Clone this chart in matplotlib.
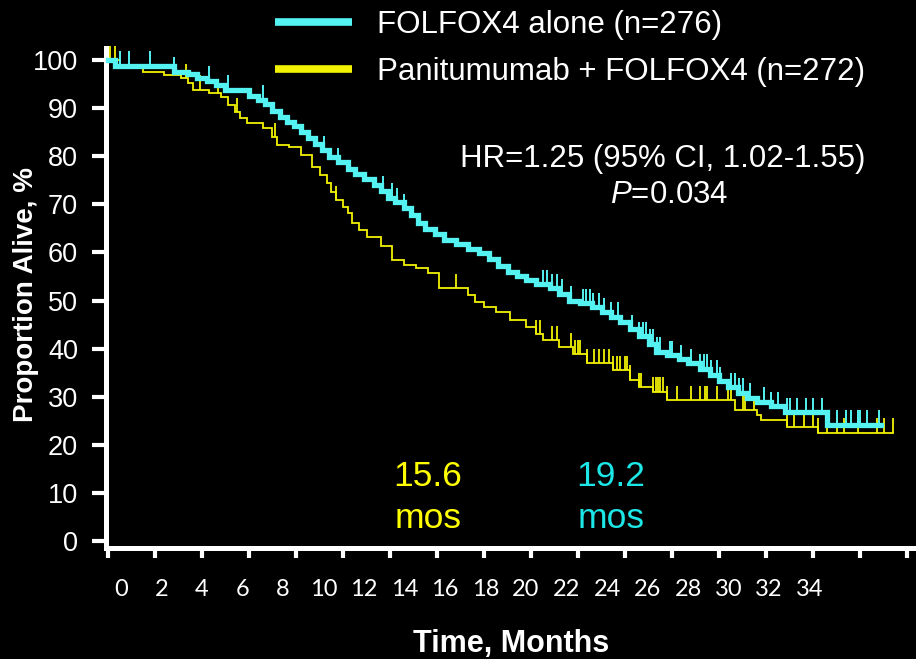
import numpy as np
import matplotlib
matplotlib.use("Agg")
import matplotlib.pyplot as plt
from matplotlib.lines import Line2D

plt.rcParams["font.family"] = ["Liberation Sans", "DejaVu Sans"]
plt.rcParams["mathtext.fontset"] = "custom"
plt.rcParams["mathtext.rm"] = "Liberation Sans"
plt.rcParams["mathtext.it"] = "Liberation Sans:italic"

# Kaplan-Meier overall survival, step times (months) and proportion alive (%)
folfox_times = [0.0, 0.3, 2.8, 3.4, 3.8, 4.2, 4.6, 5.0, 6.0, 6.4, 6.7, 7.0, 7.3, 7.6,
                7.9, 8.2, 8.5, 8.8, 9.1, 9.4, 9.8, 10.2, 10.5, 10.9, 11.3, 11.6, 11.9,
                12.2, 12.6, 12.9, 13.2, 13.5, 13.9, 14.3, 14.8, 15.3, 15.8, 16.2, 16.6,
                17.0, 17.4, 17.8, 18.2, 18.8, 19.2, 19.6, 20.1, 20.6, 21.0, 21.4, 21.8,
                22.2, 22.6, 23.0, 23.3, 23.8, 24.3, 24.7, 25.2, 25.6, 26.0, 26.4, 26.8,
                27.2, 27.6, 28.2, 28.8, 30.6, 32.9]
folfox_surv = [100.0, 98.8, 97.6, 97.0, 96.3, 95.7, 94.9, 93.8, 92.6, 91.8, 90.8, 89.4,
               88.2, 87.2, 86.2, 85.0, 83.8, 82.6, 81.3, 79.8, 78.8, 77.4, 76.3, 75.2,
               74.0, 72.8, 71.4, 70.4, 69.2, 67.8, 66.2, 64.8, 63.8, 62.6, 61.8, 60.8,
               59.8, 58.6, 57.2, 55.9, 55.0, 54.2, 53.4, 52.6, 51.4, 50.0, 49.4, 48.6,
               47.6, 46.6, 45.6, 44.0, 42.6, 41.0, 39.4, 38.6, 37.8, 37.0, 35.8, 34.6,
               33.2, 32.0, 30.8, 29.8, 29.0, 28.0, 26.8, 24.2, 24.2]
folfox_censored = [0.5, 0.9, 1.8, 2.8, 4.3, 5.1, 6.6, 9.2, 9.8, 11.7, 12.1, 12.3, 12.6,
                   18.5, 18.7, 18.9, 19.1, 19.3, 19.7, 20.2, 20.35, 20.5, 20.65, 20.9,
                   21.1, 21.4, 21.7, 22.3, 22.6, 22.75, 22.9, 23.05, 23.2, 23.35, 23.5,
                   23.9, 24.0, 24.4, 24.8, 25.2, 25.35, 25.5, 25.65, 25.9, 26.05, 26.5,
                   26.7, 26.85, 27.0, 27.3, 27.9, 28.2, 28.5, 28.9, 29.0, 29.3, 29.7,
                   30.0, 30.4, 31.0, 31.4, 31.6, 31.9, 32.0, 32.3, 32.8]

pmab_times = [0.0, 0.5, 1.5, 2.4, 3.1, 3.4, 3.6, 4.3, 4.8, 5.1, 5.4, 5.6, 5.9, 6.6, 7.0,
              7.2, 7.7, 8.2, 8.7, 9.0, 9.3, 9.5, 9.7, 10.0, 10.2, 10.4, 10.7, 11.0, 11.6,
              12.1, 12.6, 13.1, 13.6, 14.1, 15.3, 15.6, 16.0, 16.5, 17.1, 17.8, 18.2,
              18.5, 19.2, 19.8, 20.4, 21.5, 22.2, 22.6, 23.2, 23.8, 26.7, 27.6, 27.8,
              28.9, 30.2, 33.4]
pmab_surv = [100.0, 98.6, 97.6, 96.9, 96.2, 95.2, 93.8, 93.1, 92.3, 90.6, 89.2, 88.0,
             86.9, 85.9, 84.0, 82.3, 81.9, 80.2, 77.8, 76.0, 74.4, 72.6, 70.9, 69.5,
             68.2, 66.1, 64.6, 63.2, 61.4, 58.4, 57.4, 56.8, 55.7, 52.6, 51.1, 49.6,
             48.6, 47.6, 45.9, 44.5, 43.0, 41.8, 40.3, 38.8, 37.0, 35.5, 33.5, 32.0,
             31.0, 29.3, 27.2, 26.2, 25.2, 23.7, 22.5, 22.5]
pmab_censored = [0.1, 0.3, 3.3, 3.9, 4.7, 5.5, 7.1, 9.7, 14.8, 18.2, 18.4, 18.9, 19.1,
                 19.7, 19.85, 20.0, 20.1, 20.4, 20.7, 20.9, 21.1, 21.3, 21.5, 21.65,
                 21.8, 22.0, 22.1, 22.2, 22.6, 22.7, 23.2, 23.3, 23.4, 23.5, 23.6, 23.8,
                 24.2, 24.8, 25.2, 25.4, 25.5, 25.9, 26.4, 26.5, 27.0, 27.1, 27.5, 28.9,
                 29.2, 29.6, 30.0, 30.2, 30.6, 31.0, 31.3, 31.9, 32.7, 33.0, 33.4]

labels = ["FOLFOX4 alone (n=276)", "Panitumumab + FOLFOX4 (n=272)"]
medians = [19.2, 15.6]
x_ticks = list(range(0, 35, 2))
y_ticks = list(range(0, 101, 10))
hr_text = "HR=1.25 (95% CI, 1.02-1.55)"
p_text = r"$\mathit{P}$=0.034"

CYAN = "#55F2F2"
CYAN_TXT = "#1CE6E6"
YELLOW = "#F2F200"
YELLOW_TXT = "#FFFF00"
WHITE = "white"

fig = plt.figure(figsize=(9.16, 6.59), dpi=100, facecolor="black")
ax = fig.add_axes([0.1157, 0.1684, 0.8843, 0.7587])
ax.set_facecolor("black")


def survival_at(times, surv, t):
    idx = np.searchsorted(times, t, side="right") - 1
    return np.asarray(surv)[idx]


def draw_curve(times, surv, censored, color, lw, tick_lw, z):
    ax.step(times, surv, where="post", color=color, lw=lw, zorder=z,
            solid_joinstyle="miter", clip_on=False)
    c = np.asarray(censored)
    s = survival_at(np.asarray(times), surv, c)
    ax.vlines(c, s, s + 3.0, color=color, lw=tick_lw, zorder=z, clip_on=False)


draw_curve(pmab_times, pmab_surv, pmab_censored, YELLOW, 1.3, 1.3, 3)
draw_curve(folfox_times, folfox_surv, folfox_censored, CYAN, 3.8, 1.4, 4)

ax.set_xlim(-0.085, 34.38)
ax.set_ylim(-1.46, 102.5)

for side in ("top", "right"):
    ax.spines[side].set_visible(False)
for side in ("left", "bottom"):
    ax.spines[side].set_color(WHITE)
    ax.spines[side].set_linewidth(3.6)

ax.set_xticks(x_ticks)
ax.set_xticklabels([])
ax.set_yticks(y_ticks)
ax.set_yticklabels([str(v) for v in y_ticks])
ax.tick_params(axis="y", direction="out", length=10, width=3, color=WHITE,
               labelcolor=WHITE, labelsize=19.5, pad=10)
ax.tick_params(axis="x", direction="out", length=7, width=3, color=WHITE)

# month labels sit on their own scale below the axis
label_start, label_step = 0.553, 0.8617
sec = ax.secondary_xaxis("bottom", functions=(lambda t: (t - label_start) / label_step,
                                              lambda v: label_start + v * label_step))
sec.set_xticks(x_ticks)
sec.set_xticklabels([str(v) for v in x_ticks], fontfamily="Lato")
sec.tick_params(axis="x", length=0, pad=22, labelsize=17, labelcolor=WHITE)
sec.spines["bottom"].set_visible(False)

fig.text(26 / 916, 1 - 295 / 659, "Proportion Alive, %", rotation=90, ha="center",
         va="center", color=WHITE, fontsize=20, fontweight="bold")
fig.text(511 / 916, 1 - 652 / 659, "Time, Months", ha="center", va="baseline",
         color=WHITE, fontsize=22, fontweight="bold")

ax.text(23.6, 77.8, hr_text, ha="center", va="baseline", color=WHITE, fontsize=22.5)
ax.text(23.9, 70.3, p_text, ha="center", va="baseline", color=WHITE, fontsize=22.5)

ax.text(13.6, 11.4, f"{medians[1]}", ha="center", va="baseline", color=YELLOW_TXT,
        fontsize=25.5)
ax.text(13.6, 2.7, "mos", ha="center", va="baseline", color=YELLOW_TXT, fontsize=25.5)
ax.text(21.4, 11.4, f"{medians[0]}", ha="center", va="baseline", color=CYAN_TXT,
        fontsize=25.5)
ax.text(21.4, 2.7, "mos", ha="center", va="baseline", color=CYAN_TXT, fontsize=25.5)

handles = [Line2D([], [], color=CYAN, lw=5.5, solid_capstyle="butt"),
           Line2D([], [], color=YELLOW, lw=5.5, solid_capstyle="butt")]
fig.legend(handles, labels, loc="upper left", bbox_to_anchor=(275 / 916, 1 - 10 / 659),
           frameon=False, fontsize=22.5, handlelength=2.46, handletextpad=0.8,
           labelspacing=0.55, borderpad=0, borderaxespad=0, labelcolor=WHITE)

fig.savefig("out.png", dpi=100, facecolor="black")
